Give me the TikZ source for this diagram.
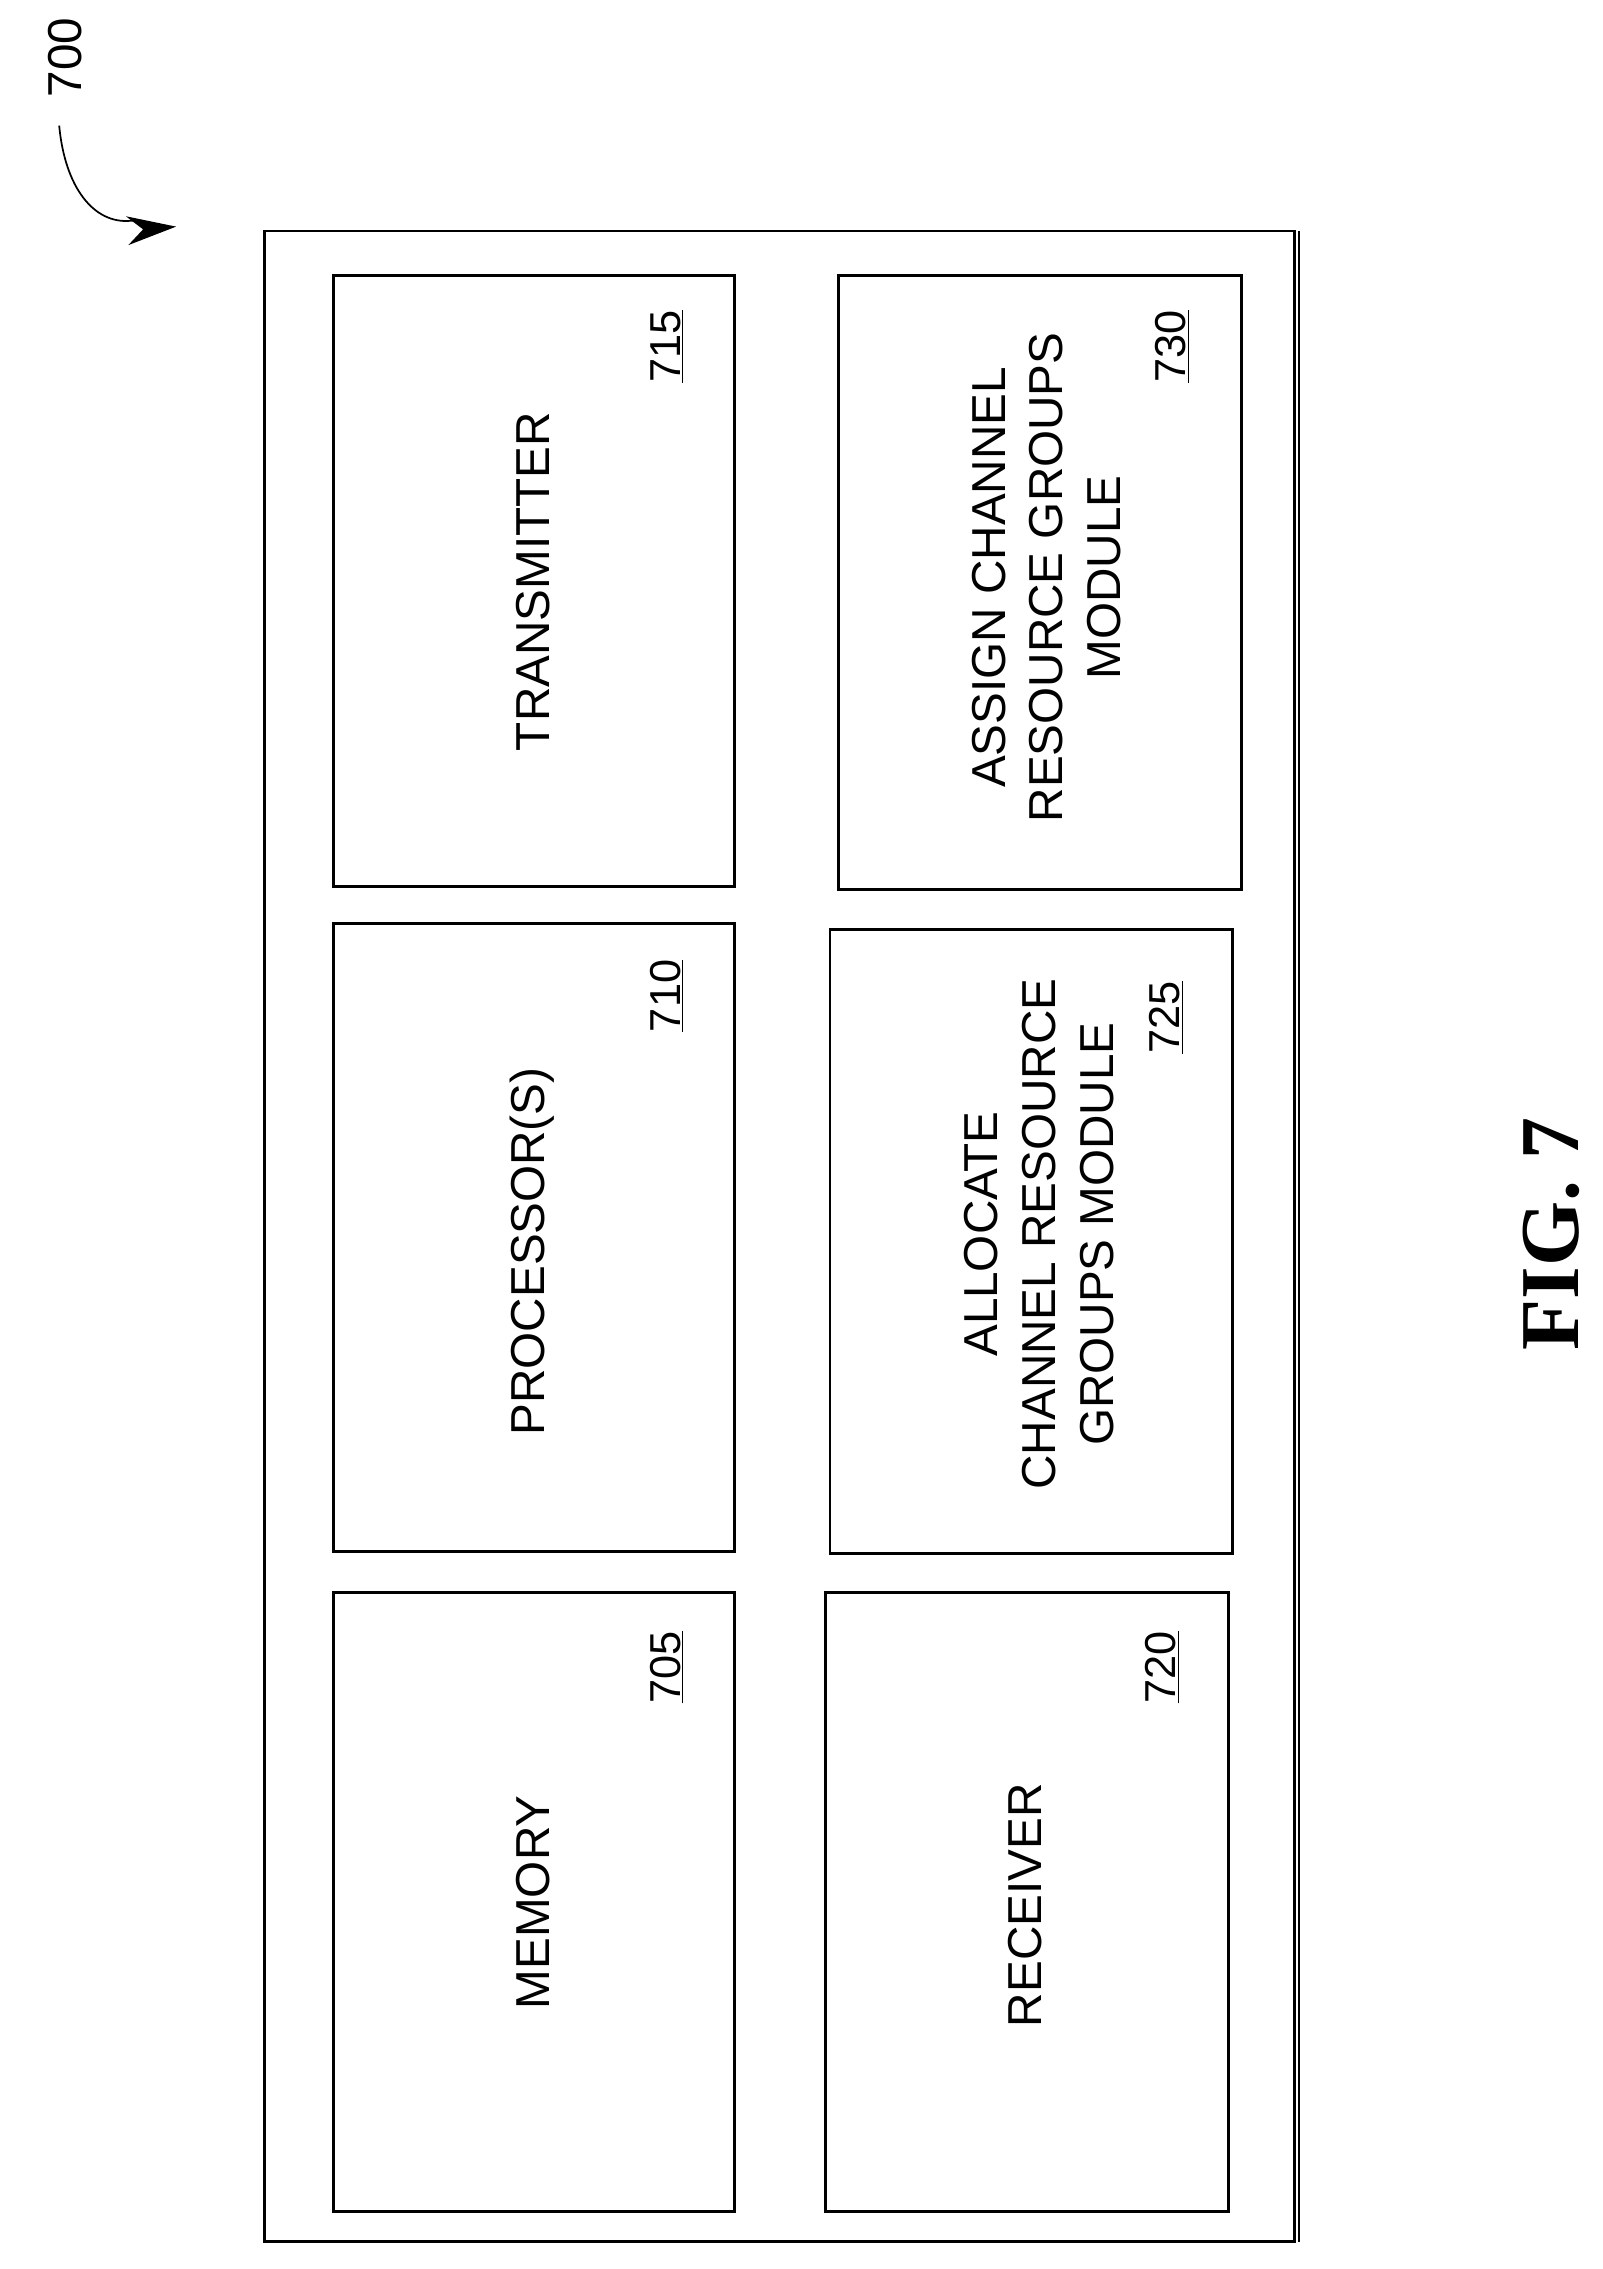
\documentclass[tikz,border=0pt]{standalone}
\usepackage{fontspec}
\setmainfont{Liberation Serif}
\newfontfamily\lab{Liberation Sans}
\usetikzlibrary{arrows.meta}
\begin{document}
\begin{tikzpicture}[x=1pt,y=-1pt,
  blk/.style={draw,line width=2pt},
  txt/.style={font=\lab\fontsize{33}{40}\selectfont,rotate=90,align=center},
  num/.style={font=\lab\fontsize{30}{34}\selectfont,rotate=90}]
\useasboundingbox (0,0) rectangle (1110,1572);
\draw[line width=2pt] (183,160) rectangle (897,1553);
\draw[line width=1pt] (900,160) -- (900,1553);
\node[blk,minimum width=278pt,minimum height=423pt] (b715) at (370,402.5) {};
\node[blk,minimum width=279pt,minimum height=425pt] (b730) at (720.5,403.5) {};
\node[blk,minimum width=278pt,minimum height=435pt] (b710) at (370,857.5) {};
\node[blk,minimum width=279pt,minimum height=432pt] (b725) at (714.5,860) {};
\node[blk,minimum width=278pt,minimum height=429pt] (b705) at (370,1317.5) {};
\node[blk,minimum width=279pt,minimum height=429pt] (b720) at (711.5,1317.5) {};
\node[txt] (t715) at (369,403) {TRANSMITTER};
\node[txt] (t730) at (725,400) {ASSIGN CHANNEL\\RESOURCE GROUPS\\MODULE};
\node[txt] (t710) at (369,867) {PROCESSOR(S)};
\node[txt] (t725) at (720,855) {ALLOCATE\\CHANNEL RESOURCE\\GROUPS MODULE};
\node[txt] (t705) at (369,1318) {MEMORY};
\node[txt] (t720) at (710,1320) {RECEIVER};
\node[num] (n715) at (462,240) {\underline{715}};
\node[num] (n730) at (812,240) {\underline{730}};
\node[num] (n710) at (462,690) {\underline{710}};
\node[num] (n725) at (808,705) {\underline{725}};
\node[num] (n705) at (462,1155) {\underline{705}};
\node[num] (n720) at (805,1155) {\underline{720}};
\node[font=\bfseries\fontsize{58}{60}\selectfont,rotate=90] (fig) at (1075,855) {FIG. 7};
\node[num,font=\lab\fontsize{33}{36}\selectfont] (n700) at (45,40) {700};
\coordinate (a0) at (41,87);
\coordinate (a1) at (122,157);
\draw[line width=1.2pt,-{Stealth[length=34pt,width=20pt]}] (a0) .. controls (45,130) and (65,155) .. (90,153) .. controls (100,152) and (110,158) .. (a1);
\end{tikzpicture}
\end{document}
